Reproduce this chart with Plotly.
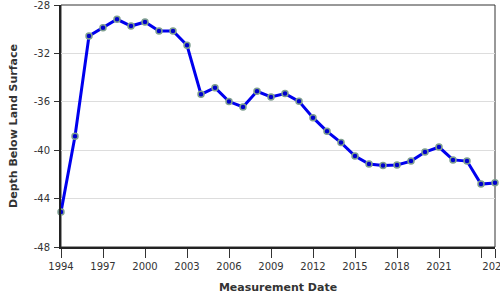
import plotly.graph_objects as go

years = list(range(1994, 2026))
depth = [-45.1, -38.85, -30.56, -29.87, -29.18, -29.74, -29.4, -30.15, -30.15, -31.33,
         -35.38, -34.83, -35.98, -36.43, -35.13, -35.6, -35.32, -35.96, -37.31, -38.44,
         -39.37, -40.48, -41.14, -41.27, -41.22, -40.9, -40.15, -39.74, -40.8, -40.9,
         -42.8, -42.7]

x_tickvals = [1994, 1997, 2000, 2003, 2006, 2009, 2012, 2015, 2018, 2021, 2024, 2025]
x_ticktext = ["1994", "1997", "2000", "2003", "2006", "2009", "2012", "2015", "2018", "2021", "", "2025"]
y_tickvals = [-28, -32, -36, -40, -44, -48]
y_ticktext = ["-28", "-32", "-36", "-40", "-44", "-48"]

fig = go.Figure()
fig.add_trace(go.Scatter(
    x=years, y=depth, mode="lines+markers",
    line=dict(color="#0000ee", width=3),
    marker=dict(size=6, color="#0000cc", line=dict(color="#7f9f8f", width=1.5)),
    cliponaxis=False,
))

font = "DejaVu Sans, Verdana, sans-serif"
fig.update_layout(
    width=500, height=300,
    margin=dict(l=61, r=5, t=5, b=53, autoexpand=False),
    paper_bgcolor="white", plot_bgcolor="white",
    showlegend=False,
    font=dict(family=font, size=10, color="#333"),
    xaxis=dict(
        range=[1994, 2025.0001], tickvals=x_tickvals, ticktext=x_ticktext,
        showgrid=False, zeroline=False, automargin=False,
        showline=True, linecolor="#222", linewidth=2,
        ticks="outside", ticklen=9, tickcolor="#333", tickwidth=1,
        ticklabeloverflow="allow",
        tickfont=dict(size=10, color="#333"),
        title=dict(text="<b>Measurement Date</b>", font=dict(size=11, color="#333"), standoff=12),
    ),
    yaxis=dict(
        range=[-48, -27.9999], tickvals=y_tickvals, ticktext=y_ticktext,
        showgrid=True, gridcolor="#dddddd", gridwidth=1, zeroline=False, automargin=False,
        showline=True, linecolor="#222", linewidth=2,
        ticks="outside", ticklen=5, tickcolor="#333", tickwidth=1,
        ticklabeloverflow="allow", ticklabelstandoff=2,
        tickfont=dict(size=10, color="#333"),
        title=dict(text="<b>Depth Below Land Surface</b>", font=dict(size=11, color="#333"), standoff=14),
    ),
    shapes=[dict(type="rect", xref="paper", yref="paper", x0=0, x1=1, y0=0, y1=1,
                 line=dict(color="#333", width=1), layer="below")],
)

fig.write_html("out.html")
